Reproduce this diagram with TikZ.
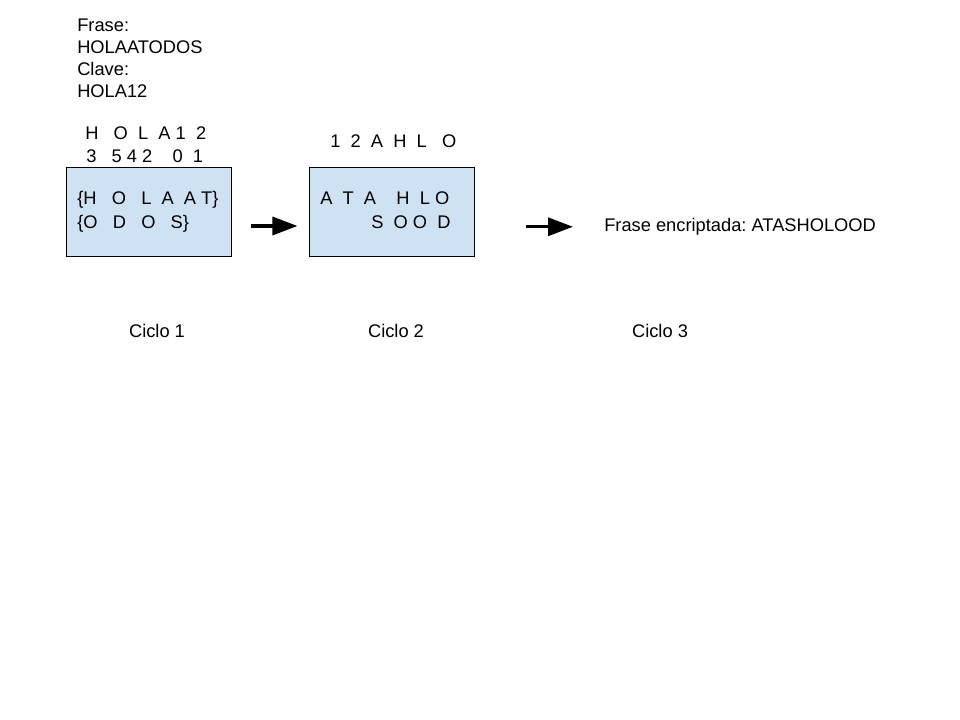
\documentclass[tikz,border=0pt]{standalone}
\usepackage{fontspec}
\setmainfont{Liberation Sans}
\usetikzlibrary{arrows.meta}
\definecolor{cellblue}{HTML}{CFE2F3}
\frenchspacing

\begin{document}
\begin{tikzpicture}[x=0.025cm, y=-0.025cm,
  txt/.style={font=\fontsize{13}{15.6}\selectfont, inner sep=0pt, anchor=base west},
  cell/.style={draw=black, line width=0.7pt, fill=cellblue, minimum width=4.1cm, minimum height=2.2cm, inner sep=0pt},
  flow/.style={line width=2.3pt, -{Triangle[length=0.625cm, width=0.45cm]}}]
  \useasboundingbox (0,0) rectangle (960,720);

  % Phrase and key
  \node[txt, align=left, anchor=north west] (datos) at (77,18.5) {Frase:\\HOLAATODOS\\Clave:\\HOLA12};

  % Key letters and their order
  \node[txt] (clave) at (85,139.5) {H\ \ \ O\ \ L\ \ A\ 1\ \ 2};
  \node[txt] (orden) at (86,162.5) {3\ \ \ 5\ 4\ 2\ \ \ \ 0\ \ 1};
  \node[txt] (ordenada) at (330,147.5) {1\ \ 2\ \ A\ \ H\ \ L\ \ \ O};

  % Boxes for the first two cycles
  \node[cell] (box1) at (149,212) {};
  \node[cell] (box2) at (392,212) {};
  \node[txt] (fila1) at (77,204.5) {\{H\ \ \ O\ \ \ L\ \ A\ \ A\ T\}};
  \node[txt] (fila2) at (77,228.5) {\{O\ \ \ D\ \ \ O\ \ \ S\}};
  \node[txt] (col1) at (320,204.5) {A\ \ T\ \ A\ \ \ \ H\ \ L\ O};
  \node[txt] (col2) at (371,228.5) {S\ \ O\ O\ \ D};

  % Result
  \node[txt] (res) at (604,231.5) {Frase encriptada: ATASHOLOOD};

  \draw[flow] ([shift={(19,14)}]box1.east) -- ([shift={(-12,14)}]box2.west);
  \draw[flow] ([shift={(-78,0)}]res.west) -- ([shift={(-31,0)}]res.west);

  % Cycle labels
  \node[txt, anchor=base] (ciclo1) at (157,337.5) {Ciclo 1};
  \node[txt, anchor=base] (ciclo2) at (396,337.5) {Ciclo 2};
  \node[txt, anchor=base] (ciclo3) at (660,337.5) {Ciclo 3};
\end{tikzpicture}
\end{document}
